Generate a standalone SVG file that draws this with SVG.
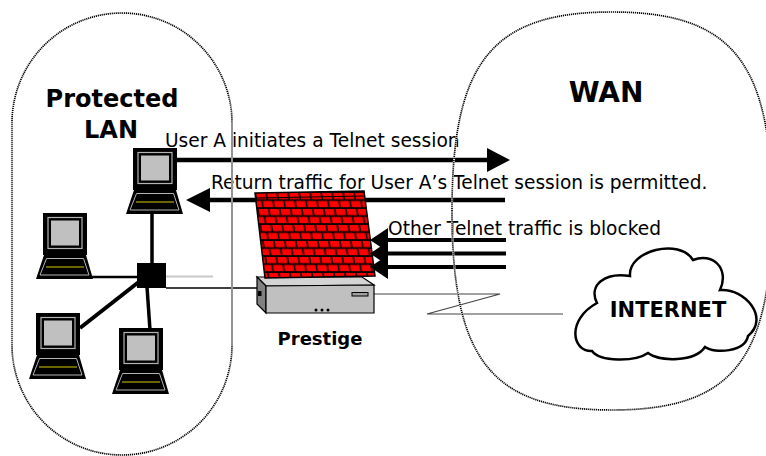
<svg xmlns="http://www.w3.org/2000/svg" width="766" height="456" viewBox="0 0 766 456">
  <style>
    .lbl { font-family: "DejaVu Sans", Verdana, sans-serif; font-size: 18.6px; fill: #000; }
    .title { font-family: "DejaVu Sans", Verdana, sans-serif; font-weight: bold; fill: #000; }
    .wire { stroke: #000; fill: none; }
    .zone-under { fill: none; stroke: #fff; stroke-width: 2; }
    .zone { fill: none; stroke: #000; stroke-width: 1.7; stroke-dasharray: 1.2 0.8; }
  </style>
  <defs>
    <!-- brick texture for the firewall -->
    <pattern id="bricks" patternUnits="userSpaceOnUse" width="22" height="16" patternTransform="translate(255,192) skewX(9)">
      <rect x="0" y="0" width="22" height="16" fill="#000"/>
      <rect x="0.9" y="0.9" width="9.4" height="6.3" fill="#ff0000"/>
      <rect x="11.9" y="0.9" width="9.4" height="6.3" fill="#ff0000"/>
      <rect x="-4.6" y="8.9" width="9.4" height="6.3" fill="#ff0000"/>
      <rect x="6.4" y="8.9" width="9.4" height="6.3" fill="#ff0000"/>
      <rect x="17.4" y="8.9" width="9.4" height="6.3" fill="#ff0000"/>
    </pattern>
    <!-- laptop workstation icon -->
    <g id="laptop-shape">
      <rect x="0" y="0" width="44" height="42" fill="#000"/>
      <rect x="5" y="4.5" width="34" height="31" fill="none" stroke="#b4b4b4" stroke-width="1.2"/>
      <rect x="8" y="7.5" width="28" height="25" fill="#c0c0c0"/>
      <polygon points="1,42 43,42 50,66 -7,66" fill="#000"/>
      <polygon points="3.5,45.5 40.5,45.5 46,62 -3,62" fill="none" stroke="#b4b4b4" stroke-width="1"/>
      <line x1="3" y1="54" x2="41" y2="54" stroke="#6b6500" stroke-width="2"/>
    </g>
  </defs>

  <rect width="766" height="456" fill="#fff"/>

  <!-- connectors -->
  <g id="connectors">
    <line class="wire" x1="152" y1="213" x2="152" y2="263" stroke-width="3.5"/>
    <line class="wire" x1="90" y1="277" x2="138" y2="277" stroke-width="2.5"/>
    <line class="wire" x1="80" y1="328" x2="140" y2="281" stroke-width="4"/>
    <line class="wire" x1="147" y1="287" x2="150" y2="330" stroke-width="3.5"/>
    <line x1="166" y1="276.5" x2="213" y2="276.5" stroke="#c8c8c8" stroke-width="2"/>
    <line class="wire" x1="166" y1="288" x2="258" y2="288" stroke-width="1.5"/>
    <polyline points="374,294 500,294 427,314 563,314" fill="none" stroke="#444" stroke-width="1.2"/>

    <!-- User A outbound session -->
    <line class="wire" x1="177" y1="160" x2="490" y2="160" stroke-width="4.5"/>
    <polygon points="487,148 510,160 487,172" fill="#000"/>
    <!-- permitted return traffic -->
    <line class="wire" x1="505" y1="200" x2="207" y2="200" stroke-width="4.5"/>
    <polygon points="210,188 186,200 210,212" fill="#000"/>
    <!-- blocked telnet traffic -->
    <line class="wire" x1="506" y1="240" x2="386" y2="240" stroke-width="4"/>
    <line class="wire" x1="506" y1="253.5" x2="386" y2="253.5" stroke-width="4"/>
    <line class="wire" x1="506" y1="267" x2="386" y2="267" stroke-width="4"/>
  </g>

  <!-- LAN workstations and hub -->
  <g id="pc-user-a"><use href="#laptop-shape" x="133" y="148"/></g>
  <g id="pc-2"><use href="#laptop-shape" x="43" y="213"/></g>
  <g id="pc-3"><use href="#laptop-shape" x="36" y="313"/></g>
  <g id="pc-4"><use href="#laptop-shape" x="119" y="328"/></g>
  <g id="hub"><rect x="137" y="263" width="29" height="25" fill="#000"/></g>

  <!-- Prestige router -->
  <g id="prestige">
    <polygon points="257,277 362,277 374,285 266,286" fill="#d4d4d4" stroke="#000" stroke-width="1.2"/>
    <polygon points="257,277 266,286 266,313 257,304" fill="#808080" stroke="#000" stroke-width="1.2"/>
    <polygon points="266,286 374,285 374,313 266,313" fill="#c0c0c0" stroke="#000" stroke-width="1.2"/>
    <rect x="258" y="291" width="3.5" height="5" fill="#000"/>
    <rect x="352" y="292.5" width="16" height="3.5" fill="#a0a0a0" stroke="#000" stroke-width="1"/>
    <circle cx="316" cy="310" r="1.5" fill="#000"/>
    <circle cx="322" cy="310" r="1.5" fill="#000"/>
    <circle cx="328" cy="310" r="1.5" fill="#000"/>
    <text class="title" x="320" y="345" font-size="18" text-anchor="middle">Prestige</text>
  </g>

  <!-- firewall -->
  <g id="firewall">
    <polygon points="255,193 364,191 375,276 265,278" fill="url(#bricks)" stroke="#000" stroke-width="1.5"/>
    <line x1="255.5" y1="198" x2="364.6" y2="196" stroke="#000" stroke-width="1.2"/>
    <polygon points="388,228 370,240 388,252" fill="#000"/>
    <polygon points="388,241.5 370,253.5 388,265.5" fill="#000"/>
    <polygon points="388,255 370,267 388,279" fill="#000"/>
  </g>

  <!-- Internet cloud -->
  <g id="internet">
    <path d="M 592,351 C 572,352 566,320 597,303 C 588,285 605,272 630,276 C 628,250 680,238 693,260 C 712,252 730,268 720,290 C 745,288 770,318 748,336 C 745,352 715,354 705,347 C 695,362 660,362 648,353 C 635,362 600,362 592,351 Z" fill="#fff" stroke="#000" stroke-width="2.5"/>
    <text class="title" x="668" y="317" font-size="21" text-anchor="middle">INTERNET</text>
  </g>

  <!-- traffic labels -->
  <g id="labels">
    <text class="lbl" x="165" y="147">User A initiates a Telnet session</text>
    <text class="lbl" x="211" y="189">Return traffic for User A’s Telnet session is permitted.</text>
    <text class="lbl" x="388" y="235">Other Telnet traffic is blocked</text>
  </g>

  <!-- network zones -->
  <g id="lan-zone">
    <rect class="zone-under" x="12" y="13" width="220" height="442" rx="110" ry="110"/>
    <rect class="zone" x="12" y="13" width="220" height="442" rx="110" ry="110"/>
    <text class="title" x="112" y="107" font-size="24" text-anchor="middle">Protected</text>
    <text class="title" x="111" y="138" font-size="24" text-anchor="middle">LAN</text>
  </g>
  <g id="wan-zone">
    <path class="zone-under" d="M 452,211 C 452,62 492,12 612,12 C 732,12 772,62 772,211 C 772,360 732,410 612,410 C 492,410 452,360 452,211 Z"/>
    <path class="zone" d="M 452,211 C 452,62 492,12 612,12 C 732,12 772,62 772,211 C 772,360 732,410 612,410 C 492,410 452,360 452,211 Z"/>
    <text class="title" x="606" y="102" font-size="28" text-anchor="middle">WAN</text>
  </g>
</svg>
